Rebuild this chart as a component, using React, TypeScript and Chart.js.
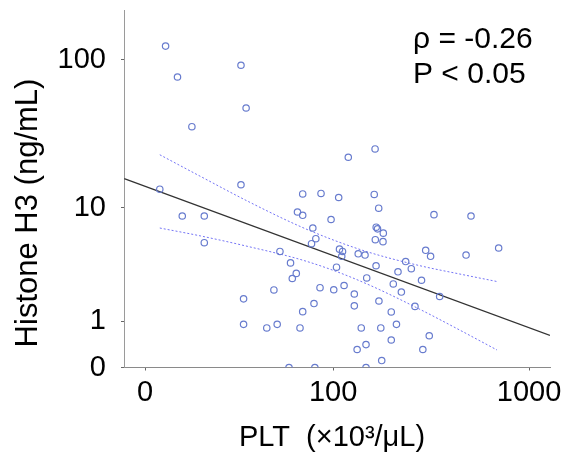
import React, { useEffect, useRef } from 'react';
import { Chart, registerables } from 'chart.js';

Chart.register(...registerables);

// ---- data (PLT ×10³/µL vs Histone H3 ng/mL) ----
const PLT = [
  3.6, 6.1, 26.8, 29.2, 9.6, 2.5, 26.8, 7.2, 13.1, 13.1,
  49, 28, 44.9, 28, 40.4, 47.1, 56.9, 61.6, 58.3, 64.8,
  67.2, 78.1, 84.5, 100.8, 114.8, 130.4, 130.4, 151.8, 176, 209,
  204, 217, 142, 180, 204, 135, 150.5, 182, 55.7, 79,
  150.5, 80, 75.6, 104.4, 108.4, 112.6, 111.5, 136.8, 148.7, 168.5,
  184.8, 185.5, 170, 221, 242, 258.6, 230, 291.5, 270, 360,
  306, 324, 488, 708, 319, 296, 168, 121, 67.2, 85.6,
  107.3, 166.3, 175.5, 62.6, 67.2, 97.4, 337, 516.5, 170.3, 173,
  76.9,
];
const H3 = [
  123, 77, 92, 48, 36, 13.5, 14.5, 8.7, 8.7, 5.5,
  4.7, 1.8, 2.2, 0.91, 0.81, 0.91, 3.8, 3.1, 2.8, 0.81,
  1.31, 1.61, 2.31, 2.21, 2.42, 2.01, 1.52, 2.83, 1.71, 2.5,
  1.3, 0.91, 0.81, 0.81, 0.51, 0.31, 0.41, 0.11, 0, 0,
  0, 5.9, 5.4, 3.5, 4.9, 4.7, 4.3, 4.5, 4.4, 5.8,
  5.6, 6.5, 3.6, 3.2, 3.9, 3.4, 2.1, 2.7, 1.5, 1.9,
  4.8, 4.3, 4.4, 5.0, 0.61, 0.31, 25.5, 22.4, 12.5, 12.6,
  11.8, 12.4, 9.9, 9.3, 8.8, 8.2, 8.9, 8.7, 7.2, 7.0,
  7.1,
];

// regression line end points
const FIT_PLT = [-2.9, 1266];
const FIT_H3 = [16.0, 0.62];

// 95% confidence band
const BAND_PLT = [2.5, 11.9, 31.1, 64.8, 102.5, 158, 286.5, 455, 695];
const BAND_UPPER = [23.3, 16.6, 10.9, 7.3, 5.7, 4.6, 3.6, 3.06, 2.63];
const BAND_LOWER = [7.1, 6.2, 5.1, 4.06, 3.25, 2.43, 1.39, 0.75, 0.3];

const X_TICKS = [0, 100, 1000];
const X_TICK_LABELS = ['0', '100', '1000'];
const Y_TICKS = [0, 1, 10, 100];
const Y_TICK_LABELS = ['0', '1', '10', '100'];
const X_RANGE = [-2.93, 1266];
const Y_RANGE = [0, 212];

const X_TITLE = 'PLT  (×10³/μL)';
const Y_TITLE = 'Histone H3 (ng/mL)';
const STATS = ['ρ = -0.26', 'P < 0.05'];

// axis transforms (log-type axes)
const X_OFFSET = 14;
const Y_OFFSET = 1;
const xT = (v: number) => Math.log10(v + X_OFFSET);
const yT = (v: number) => Math.log10(v + Y_OFFSET);

const FONT = '"Liberation Sans", Arial, Helvetica, sans-serif';

const textPlugin = {
  id: 'textPlugin',
  afterDraw(chart: any) {
    const ctx = chart.ctx as CanvasRenderingContext2D;
    ctx.save();
    ctx.fillStyle = '#000';
    ctx.textBaseline = 'alphabetic';
    // stats annotation
    ctx.font = `30px ${FONT}`;
    ctx.textAlign = 'left';
    ctx.fillText(STATS[0], 413, 48);
    ctx.fillText(STATS[1], 413, 83);
    // x title
    ctx.font = `29px ${FONT}`;
    ctx.textAlign = 'center';
    ctx.fillText(X_TITLE, 332, 446);
    // y title
    ctx.font = `31px ${FONT}`;
    ctx.translate(36.5, 213);
    ctx.rotate(-Math.PI / 2);
    ctx.textAlign = 'center';
    ctx.fillText(Y_TITLE, 0, 0);
    ctx.restore();
  },
};

export default function App() {
  const ref = useRef<HTMLCanvasElement>(null);
  useEffect(() => {
    const canvas = ref.current!;
    const chart = new Chart(canvas, {
      type: 'scatter',
      data: {
        datasets: [
          {
            label: 'patients',
            data: PLT.map((v, i) => ({ x: xT(v), y: yT(H3[i]) })),
            showLine: false,
            pointRadius: 3.2,
            pointBorderWidth: 1.2,
            pointBorderColor: 'rgb(104,124,206)',
            pointBackgroundColor: 'rgba(0,0,0,0)',
            order: 0,
          },
          {
            label: 'fit',
            data: FIT_PLT.map((v, i) => ({ x: xT(v), y: yT(FIT_H3[i]) })),
            showLine: true,
            pointRadius: 0,
            borderColor: '#333',
            borderWidth: 1.3,
            order: 1,
          },
          {
            label: 'upper',
            data: BAND_PLT.map((v, i) => ({ x: xT(v), y: yT(BAND_UPPER[i]) })),
            showLine: true,
            pointRadius: 0,
            borderColor: 'rgb(115,115,245)',
            borderWidth: 1,
            borderDash: [2, 2],
            cubicInterpolationMode: 'monotone',
            order: 2,
          },
          {
            label: 'lower',
            data: BAND_PLT.map((v, i) => ({ x: xT(v), y: yT(BAND_LOWER[i]) })),
            showLine: true,
            pointRadius: 0,
            borderColor: 'rgb(115,115,245)',
            borderWidth: 1,
            borderDash: [2, 2],
            cubicInterpolationMode: 'monotone',
            order: 3,
          },
        ],
      } as any,
      options: {
        responsive: false,
        animation: false,
        devicePixelRatio: 1,
        layout: { padding: { left: 0, top: 10, right: 16, bottom: 0 } },
        plugins: { legend: { display: false }, tooltip: { enabled: false }, title: { display: false } },
        scales: {
          x: {
            type: 'linear',
            min: xT(X_RANGE[0]),
            max: xT(X_RANGE[1]),
            afterBuildTicks: (s: any) => {
              s.ticks = X_TICKS.map((v) => ({ value: xT(v) }));
            },
            afterFit: (s: any) => {
              s.height = 94.5;
              s.paddingLeft = 0;
              s.paddingRight = 0;
              s.paddingTop = 0;
              s.paddingBottom = 0;
            },
            ticks: {
              callback: (_v: any, i: number) => X_TICK_LABELS[i],
              font: { family: FONT, size: 29 },
              color: '#000',
              padding: 5,
              maxRotation: 0,
              autoSkip: false,
            },
            grid: { drawOnChartArea: false, drawTicks: true, tickLength: 3, tickColor: '#666', color: '#666' },
            border: { display: true, color: '#8a8a8a', width: 1 },
          },
          y: {
            type: 'linear',
            min: yT(Y_RANGE[0]),
            max: yT(Y_RANGE[1]),
            afterBuildTicks: (s: any) => {
              s.ticks = Y_TICKS.map((v) => ({ value: yT(v) }));
            },
            afterFit: (s: any) => {
              s.width = 124;
              s.paddingLeft = 0;
              s.paddingRight = 0;
              s.paddingTop = 0;
              s.paddingBottom = 0;
            },
            ticks: {
              callback: (_v: any, i: number) => Y_TICK_LABELS[i],
              font: { family: FONT, size: 29 },
              color: '#000',
              padding: 15,
              autoSkip: false,
            },
            grid: { drawOnChartArea: false, drawTicks: true, tickLength: 3, tickColor: '#666', color: '#666' },
            border: { display: true, color: '#9a9a9a', width: 1 },
          },
        },
      } as any,
      plugins: [textPlugin],
    });
    return () => chart.destroy();
  }, []);
  return (
    <canvas
      ref={ref}
      width={566}
      height={462}
      style={{ position: 'absolute', left: 0, top: 0, width: 566, height: 462 }}
    />
  );
}
